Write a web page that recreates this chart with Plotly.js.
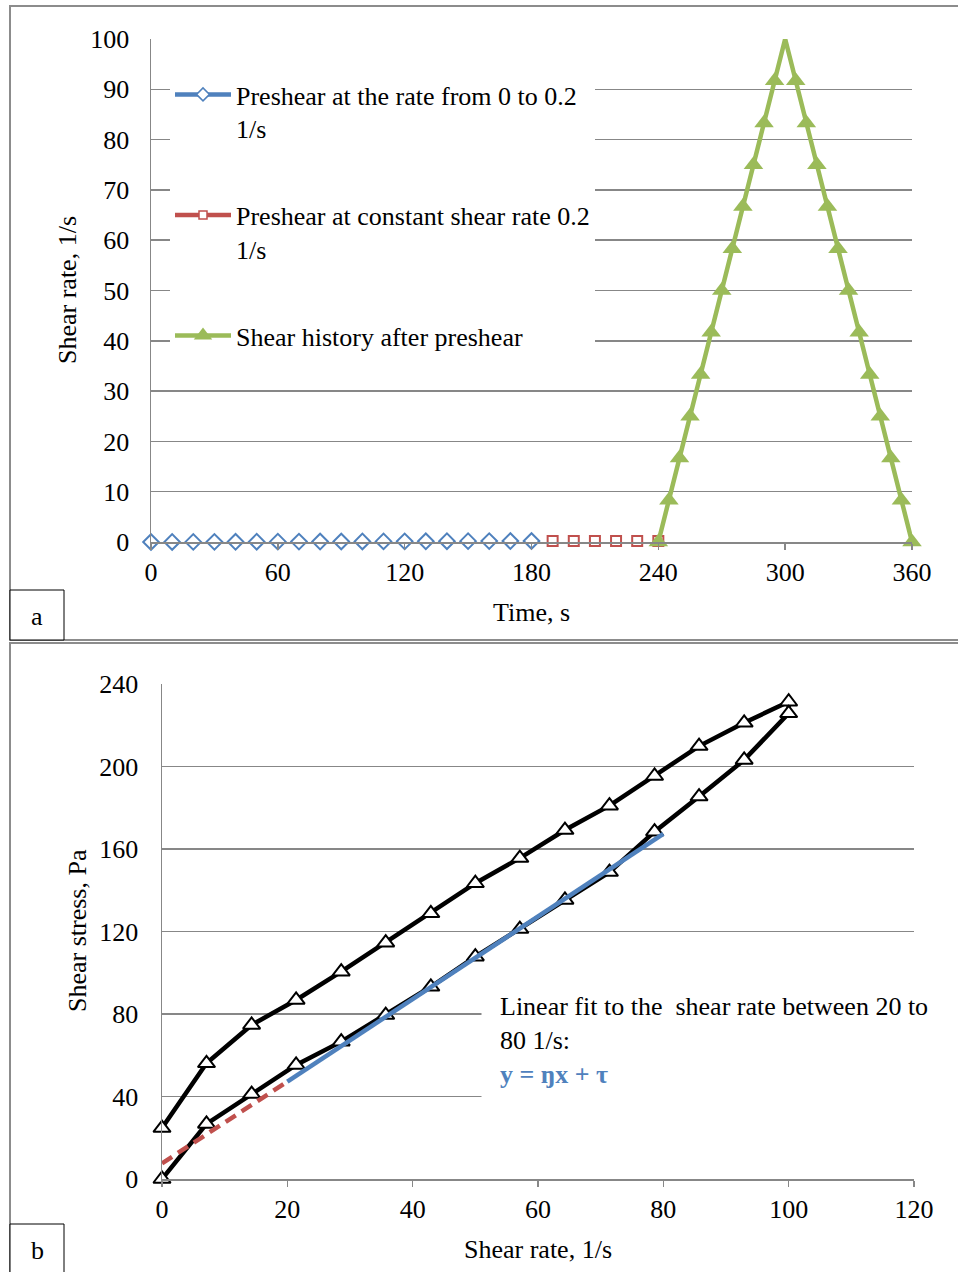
<!DOCTYPE html>
<html>
<head>
<meta charset="utf-8">
<script src="https://cdn.plot.ly/plotly-3.0.1.min.js"></script>
<style>html,body{margin:0;padding:0;background:#fff;}#chart{width:958px;height:1272px;}</style>
</head>
<body>
<div id="chart"></div>
<script>
// ---- Panel a data ----
const preshearRampTime = [0,10,20,30,40,50,60,70,80,90,100,110,120,130,140,150,160,170,180];
const preshearRampRate = [0,0.01,0.02,0.03,0.04,0.06,0.07,0.08,0.09,0.1,0.11,0.12,0.13,0.14,0.16,0.17,0.18,0.19,0.2];
const preshearConstTime = [190,200,210,220,230,240];
const preshearConstRate = [0.2,0.2,0.2,0.2,0.2,0.2];
const historyTime = [240,245,250,255,260,265,270,275,280,285,290,295,300,305,310,315,320,325,330,335,340,345,350,355,360];
const historyRate = [0,8.3,16.7,25,33.3,41.7,50,58.3,66.7,75,83.3,91.7,100,91.7,83.3,75,66.7,58.3,50,41.7,33.3,25,16.7,8.3,0];
const legendNames = ["Preshear at the rate from 0 to 0.2<br>1/s","Preshear at constant shear rate 0.2<br>1/s","Shear history after preshear"];
const timeTicks = [0,60,120,180,240,300,360];
const rateTicksA = [0,10,20,30,40,50,60,70,80,90,100];

// ---- Panel b data ----
const loopShearRate = [0,7.1,14.3,21.4,28.6,35.7,42.9,50,57.1,64.3,71.4,78.6,85.7,92.9,100,
                       100,92.9,85.7,78.6,71.4,64.3,57.1,50,42.9,35.7,28.6,21.4,14.3,7.1,0];
const loopShearStress = [24.7,56.1,74.7,86.8,100.5,114.6,128.8,143.4,155.6,169.2,181,195.4,209.9,221.2,231.4,
                         225.8,203.2,185.4,168.4,148.8,135.3,121.2,107.8,93.2,79.5,66.6,55.3,41.2,26.7,0];
const fitRate = [20,80];
const fitStress = [47.2,167.3];
const extRate = [0,20];
const extStress = [7.6,47.2];
const rateTicksB = [0,20,40,60,80,100,120];
const stressTicks = [0,40,80,120,160,200,240];

const W = 958, H = 1272;
const px = x => x / W;
const py = y => 1 - y / H;
const FONT = 'Liberation Serif';
const FS = 26;
const GRID = '#878787';
const BLUE = '#4F81BD', RED = '#C0504D', GREEN = '#9BBB59';

// the peak point carries no marker in the reference
const greenSizes = historyRate.map(v => v === 100 ? 0 : 17);

const traces = [
  // panel a data traces
  {x: preshearRampTime, y: preshearRampRate, xaxis:'x', yaxis:'y', mode:'markers', showlegend:false, cliponaxis:false,
   marker:{symbol:'diamond', size:12, color:'#fff', line:{color:BLUE, width:2}}},
  {x: preshearConstTime, y: preshearConstRate, xaxis:'x', yaxis:'y', mode:'markers', showlegend:false, cliponaxis:false,
   marker:{symbol:'square', size:10, color:'#fff', line:{color:RED, width:2}}},
  {x: historyTime, y: historyRate, xaxis:'x', yaxis:'y', mode:'lines+markers', showlegend:false, cliponaxis:false,
   line:{color:GREEN, width:4.5}, marker:{symbol:'triangle-up', size:greenSizes, color:GREEN, opacity:1, line:{width:0}}},
  // legend entries
  {x:[null], y:[null], xaxis:'x', yaxis:'y', mode:'lines+markers', name: legendNames[0], legendgroup:'g1',
   line:{color:BLUE, width:4.5}, marker:{symbol:'diamond', size:10, color:'#fff', line:{color:BLUE, width:1.5}}},
  {x:[null], y:[null], xaxis:'x', yaxis:'y', mode:'lines+markers', name: legendNames[1], legendgroup:'g2',
   line:{color:RED, width:4.5}, marker:{symbol:'square', size:8, color:'#fff', line:{color:RED, width:1.5}}},
  {x:[null], y:[null], xaxis:'x', yaxis:'y', mode:'lines+markers', name: legendNames[2], legendgroup:'g3',
   line:{color:GREEN, width:4.5}, marker:{symbol:'triangle-up', size:16, color:GREEN}},
  // panel b
  {x: loopShearRate, y: loopShearStress, xaxis:'x2', yaxis:'y2', mode:'lines+markers', showlegend:false, cliponaxis:false,
   line:{color:'#000', width:4.5}, marker:{symbol:'triangle-up', size:15, color:'#fff', line:{color:'#000', width:2}}},
  {x: extRate, y: extStress, xaxis:'x2', yaxis:'y2', mode:'lines', showlegend:false, cliponaxis:false,
   line:{color:RED, width:4.5, dash:'12px,7px'}},
  {x: fitRate, y: fitStress, xaxis:'x2', yaxis:'y2', mode:'lines', showlegend:false, cliponaxis:false,
   line:{color:BLUE, width:4.5}}
];

const tickfont = {family: FONT, size: FS, color: '#000'};
const xBase = {ticks:'outside', ticklen:6, tickwidth:1.5, tickcolor:GRID, showline:true, linecolor:GRID, linewidth:1.5,
  showgrid:false, zeroline:false, tickfont: tickfont, fixedrange:true};
const yBase = {ticks:'', showline:true, linecolor:GRID, linewidth:1.5, showgrid:true, gridcolor:GRID, gridwidth:1.5,
  zeroline:false, tickfont: tickfont, fixedrange:true};

function ann(text, x, y, extra) {
  return Object.assign({text: text, xref:'paper', yref:'paper', x: px(x), y: py(y), xanchor:'center', yanchor:'middle',
    showarrow:false, font:{family:FONT, size:FS, color:'#000'}}, extra || {});
}

const layout = {
  width: W, height: H,
  margin: {l:0, r:0, t:0, b:0, pad:0},
  paper_bgcolor:'#fff', plot_bgcolor:'#fff',
  font: {family: FONT, size: FS, color:'#000'},
  xaxis: Object.assign({}, xBase, {domain:[px(151), px(912)], range:[0,360], tickvals: timeTicks, anchor:'y'}),
  yaxis: Object.assign({}, yBase, {domain:[py(542), py(39)], range:[0,100], tickvals: rateTicksA, anchor:'x', ticklabelstandoff: 15}),
  xaxis2: Object.assign({}, xBase, {domain:[px(162), px(914)], range:[0,120], tickvals: rateTicksB, anchor:'y2'}),
  yaxis2: Object.assign({}, yBase, {domain:[py(1179), py(684)], range:[0,240], tickvals: stressTicks, anchor:'x2', ticklabelstandoff: 17}),
  legend: {x: px(170), y: py(71), xanchor:'left', yanchor:'top', bgcolor:'#fff', borderwidth:0,
    font:{family: FONT, size: FS, color:'#000'}, valign:'top', traceorder:'grouped', tracegroupgap: 50, itemwidth: 56},
  shapes: [
    {type:'rect', xref:'paper', yref:'paper', x0:px(10), x1:1.02, y0:py(640), y1:py(6), line:{color:'#8c8c8c', width:2}},
    {type:'rect', xref:'paper', yref:'paper', x0:px(10), x1:1.02, y0:-0.02, y1:py(643), line:{color:'#8c8c8c', width:2}},
    {type:'rect', xref:'paper', yref:'paper', x0:px(10), x1:px(64), y0:py(640), y1:py(590), line:{color:'#000', width:1}, fillcolor:'#fff'},
    {type:'rect', xref:'paper', yref:'paper', x0:px(10), x1:px(64), y0:-0.02, y1:py(1224), line:{color:'#000', width:1}, fillcolor:'#fff'}
  ],
  annotations: [
    ann('Time, s', 531, 612),
    ann('Shear rate, 1/s', 67, 290, {textangle:-90}),
    ann('Shear rate, 1/s', 538, 1249),
    ann('Shear stress, Pa', 77, 931, {textangle:-90}),
    ann('a', 37, 616),
    ann('b', 37, 1250),
    ann('Linear fit to the  shear rate between 20 to<br>80 1/s:<br><b><span style="color:#4F81BD">y = ŋx + τ</span></b>',
      481, 973, {xanchor:'left', yanchor:'top', align:'left', bgcolor:'#fff', borderpad:18})
  ]
};

Plotly.newPlot('chart', traces, layout, {displayModeBar:false, staticPlot:true});
</script>
</body>
</html>
